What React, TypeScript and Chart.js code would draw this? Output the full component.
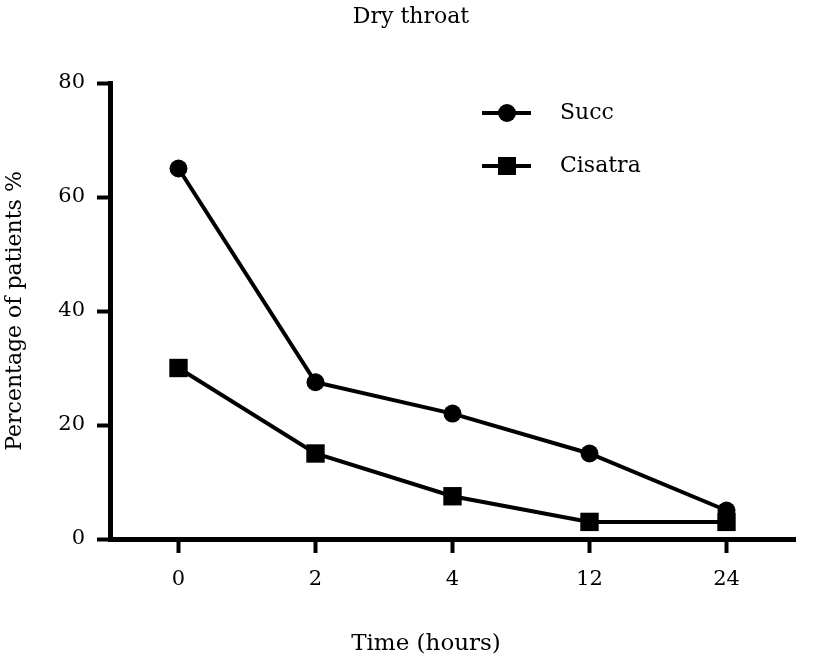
import React, { useEffect, useRef } from 'react';
import { Chart, registerables } from 'chart.js';

Chart.register(...registerables);

// values
const timeLabels = ['0', '2', '4', '12', '24'];
const succValues = [65, 27.5, 22, 15, 5];
const cisatraValues = [30, 15, 7.5, 3, 3];
const yTicks = [0, 20, 40, 60, 80];

const FONT = "'DejaVu Serif', serif";

// title, x-axis title and legend are drawn by hand so they sit where the original has them
const extrasPlugin = {
  id: 'extras',
  afterDraw(chart: Chart) {
    const ctx = chart.ctx;
    ctx.save();
    ctx.fillStyle = '#000';
    ctx.textAlign = 'center';
    ctx.textBaseline = 'middle';
    ctx.font = `22px ${FONT}`;
    ctx.fillText('Dry throat', 411, 17);
    ctx.font = `23px ${FONT}`;
    ctx.fillText('Time (hours)', 426, 644);

    // legend
    chart.data.datasets.forEach((ds: any, i: number) => {
      const y = 113 + i * 53;
      ctx.strokeStyle = '#000';
      ctx.lineWidth = 4;
      ctx.beginPath();
      ctx.moveTo(482, y);
      ctx.lineTo(531, y);
      ctx.stroke();
      ctx.fillStyle = '#000';
      if (ds.pointStyle === 'rect') {
        ctx.fillRect(507 - 9, y - 9, 18, 18);
      } else {
        ctx.beginPath();
        ctx.arc(507, y, 9, 0, Math.PI * 2);
        ctx.fill();
      }
      ctx.font = `22px ${FONT}`;
      ctx.textAlign = 'left';
      ctx.fillText(ds.label, 560, y);
    });
    ctx.restore();
  },
};

const DryThroatChart: React.FC = () => {
  const canvasRef = useRef<HTMLCanvasElement | null>(null);
  const chartRef = useRef<Chart<'line', number[], string> | null>(null);

  useEffect(() => {
    if (!canvasRef.current) return;
    const ctx = canvasRef.current.getContext('2d');
    if (!ctx) return;
    if (chartRef.current) chartRef.current.destroy();

    chartRef.current = new Chart(ctx, {
      type: 'line',
      data: {
        labels: timeLabels,
        datasets: [
          {
            label: 'Succ',
            data: succValues,
            borderColor: '#000',
            backgroundColor: '#000',
            borderWidth: 4,
            pointStyle: 'circle',
            pointRadius: 9,
            pointBorderWidth: 0,
            tension: 0,
          },
          {
            label: 'Cisatra',
            data: cisatraValues,
            borderColor: '#000',
            backgroundColor: '#000',
            borderWidth: 4,
            pointStyle: 'rect',
            pointRadius: 13,
            pointBorderWidth: 0,
            tension: 0,
          },
        ],
      },
      options: {
        animation: false,
        responsive: false,
        devicePixelRatio: 1,
        layout: { padding: { left: 0, right: 22, top: 83, bottom: 0 } },
        plugins: {
          legend: { display: false },
          title: { display: false },
          tooltip: { enabled: false },
        },
        scales: {
          x: {
            type: 'category',
            offset: true,
            afterFit: (scale: any) => {
              scale.height = 132;
            },
            border: { display: true, color: '#000', width: 5 },
            grid: {
              offset: false,
              drawOnChartArea: false,
              drawTicks: true,
              tickLength: 14,
              tickWidth: 4,
              color: '#000',
            },
            ticks: {
              color: '#000',
              font: { family: FONT, size: 21 },
              padding: 14,
            },
          },
          y: {
            type: 'linear',
            min: 0,
            max: 80,
            afterFit: (scale: any) => {
              scale.width = 110;
            },
            afterBuildTicks: (scale: any) => {
              scale.ticks = yTicks.map((v) => ({ value: v }));
            },
            border: { display: true, color: '#000', width: 5 },
            grid: {
              drawOnChartArea: false,
              drawTicks: true,
              tickLength: 13,
              tickWidth: 4,
              color: '#000',
            },
            ticks: {
              color: '#000',
              font: { family: FONT, size: 21 },
              padding: 12,
            },
            title: {
              display: true,
              text: 'Percentage of patients %',
              color: '#000',
              font: { family: FONT, size: 22 },
              padding: { top: 2, bottom: 0 },
            },
          },
        },
      },
      plugins: [extrasPlugin],
    });

    return () => {
      if (chartRef.current) {
        chartRef.current.destroy();
        chartRef.current = null;
      }
    };
  }, []);

  return <canvas ref={canvasRef} width={817} height={671} style={{ display: 'block' }} />;
};

export default function App() {
  return (
    <div style={{ position: 'fixed', left: 0, top: 0, width: 817, height: 671, background: '#fff' }}>
      <DryThroatChart />
    </div>
  );
}
